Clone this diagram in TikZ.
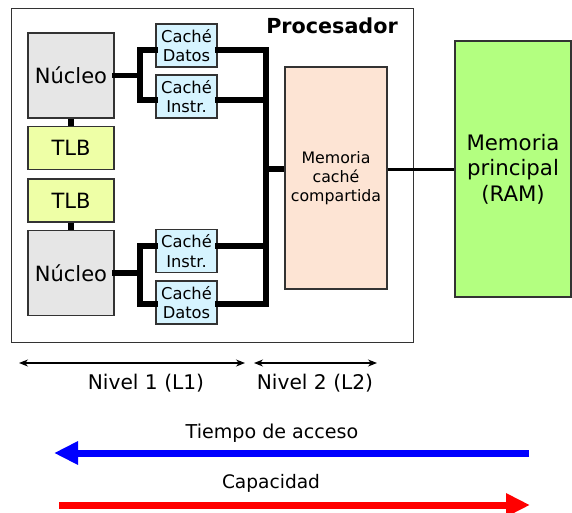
\documentclass[tikz,border=0pt]{standalone}
\usepackage{fontspec}
\setmainfont{DejaVu Sans}
\usetikzlibrary{arrows.meta}
\definecolor{nucfill}{HTML}{E6E6E6}
\definecolor{tlbfill}{HTML}{EEFFA6}
\definecolor{cachefill}{HTML}{D6F4FF}
\definecolor{l2fill}{HTML}{FDE4D4}
\definecolor{ramfill}{HTML}{B3FF80}
\definecolor{edge}{HTML}{333333}
\begin{document}
\begin{tikzpicture}[x=1pt,y=-1pt,
  box/.style={draw=edge,line width=1.4pt,inner sep=0pt,align=center},
  bigtxt/.style={font=\fontsize{19}{23}\selectfont},
  nucleo/.style={box,fill=nucfill,minimum width=86pt,minimum height=85pt,font=\fontsize{21}{25}\selectfont},
  tlbbox/.style={box,fill=tlbfill,minimum width=86pt,minimum height=43pt,font=\fontsize{21}{25}\selectfont},
  cachebox/.style={box,fill=cachefill,minimum width=61pt,minimum height=43pt,font=\fontsize{16.3}{19.5}\selectfont},
  bus/.style={line width=5.5pt,line join=miter,line cap=rect},
  lvl/.style={line width=1.1pt,{Stealth[length=9pt,width=7pt]}-{Stealth[length=9pt,width=7pt]}},
  bigarrow/.style={line width=7pt,-{Triangle[length=24pt,width=22pt]}}
]
\useasboundingbox (0,0) rectangle (572,512);
\fill[white] (0,0) rectangle (572,512);
% processor
\node[draw=edge,line width=1.3pt,minimum width=402pt,minimum height=334pt,anchor=north west,inner sep=0pt] (proc) at (11,8) {};
\node[font=\fontsize{20.7}{24}\selectfont\bfseries] (ptitle) at (332,26) {Procesador};
% cores
\node[nucleo] (n1) at (71,75.5) {Núcleo};
\node[tlbbox] (t1) at (71,148) {TLB};
\node[tlbbox] (t2) at (71,200.5) {TLB};
\node[nucleo] (n2) at (71,273) {Núcleo};
% caches
\node[cachebox] (cd1) at (186.5,45.5) {Caché\\Datos};
\node[cachebox] (ci1) at (186.5,96.5) {Caché\\Instr.};
\node[cachebox] (ci2) at (186.5,251) {Caché\\Instr.};
\node[cachebox] (cd2) at (186.5,302.5) {Caché\\Datos};
% L2 and RAM
\node[box,fill=l2fill,minimum width=102pt,minimum height=222pt,font=\fontsize{15.8}{19}\selectfont] (l2) at (336,178) {Memoria\\caché\\compartida};
\node[box,fill=ramfill,minimum width=116pt,minimum height=256pt,font=\fontsize{21.3}{25.5}\selectfont] (ram) at (513,169) {Memoria\\principal\\(RAM)};
% junction coordinates
\coordinate (a1) at (140,50);
\coordinate (a2) at (140,100);
\coordinate (a3) at (140,246);
\coordinate (a4) at (140,304);
\coordinate (b1) at (266,50);
\coordinate (b2) at (266,100);
\coordinate (b3) at (266,169);
\coordinate (b4) at (266,246);
\coordinate (b5) at (266,304);
% core 1 links
\draw[bus] (n1.east) -- (n1.east -| a1);
\draw[bus] (cd1.west |- a1) -- (a1) -- (a2) -- (ci1.west |- a2);
% core 2 links
\draw[bus] (n2.east) -- (n2.east -| a3);
\draw[bus] (ci2.west |- a3) -- (a3) -- (a4) -- (cd2.west |- a4);
% TLB links
\draw[bus,line cap=butt] (n1.south) -- (t1.north);
\draw[bus,line cap=butt] (t2.south) -- (n2.north);
% shared bus
\draw[bus] (cd1.east |- b1) -- (b1) -- (b5) -- (cd2.east |- b5);
\draw[bus] (ci1.east |- b2) -- (b2);
\draw[bus] (ci2.east |- b4) -- (b4);
\draw[bus,line cap=butt] (b3) -- (l2.west |- b3);
\draw[line width=3pt] (l2.east |- b3) -- (ram.west |- b3);
% levels
\coordinate (v1a) at (19,363);
\coordinate (v1b) at (245,363);
\coordinate (v2a) at (254,363);
\coordinate (v2b) at (377,363);
\draw[lvl] (v1a) -- (v1b);
\draw[lvl] (v2a) -- (v2b);
\node[font=\fontsize{20.2}{24}\selectfont] (lab1) at (146,383) {Nivel 1 (L1)};
\node[font=\fontsize{20.2}{24}\selectfont] (lab2) at (315,383) {Nivel 2 (L2)};
% access time / capacity
\node[font=\fontsize{19.1}{23}\selectfont] (tacc) at (272,433) {Tiempo de acceso};
\coordinate (ta) at (529,453);
\coordinate (tb) at (54,453);
\draw[bigarrow,color=blue] (ta) -- (tb);
\node[font=\fontsize{18.6}{23}\selectfont] (cap) at (271,483) {Capacidad};
\coordinate (ca) at (59,505);
\coordinate (cb) at (530,505);
\draw[bigarrow,color=red] (ca) -- (cb);
\end{tikzpicture}
\end{document}
